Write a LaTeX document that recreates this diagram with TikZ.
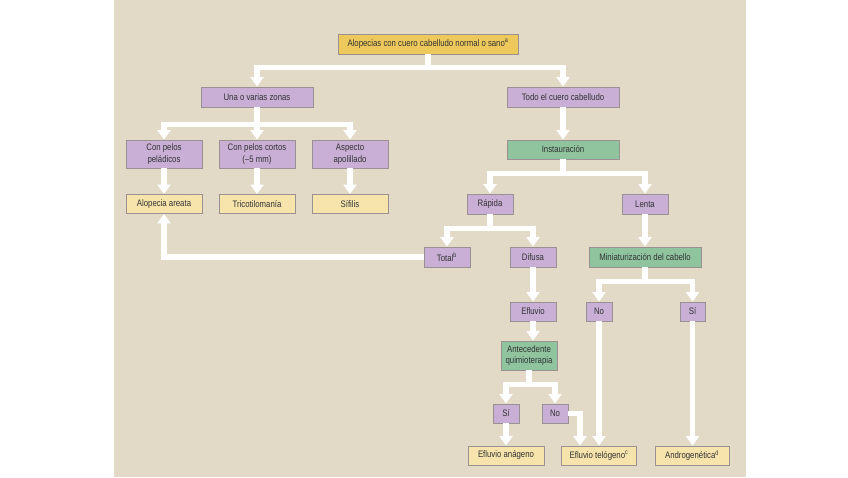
\documentclass[tikz,border=0pt]{standalone}
\usepackage{fontspec}
\setmainfont{Liberation Sans}[FakeStretch=0.83]
\usetikzlibrary{arrows.meta}
\definecolor{bgbeige}{HTML}{E2DAC7}
\definecolor{purp}{HTML}{C9AED6}
\definecolor{topyel}{HTML}{EDC95C}
\definecolor{lightyel}{HTML}{F6E4AC}
\definecolor{grn}{HTML}{8FC49F}
\definecolor{bordgrey}{HTML}{9A9290}
\definecolor{txt}{HTML}{333333}
\begin{document}
\begin{tikzpicture}[x=1pt,y=-1pt,
  box/.style={draw=bordgrey, line width=0.9pt, inner sep=0pt, align=center,
    text=txt, font=\fontsize{9.4}{11.5}\selectfont, minimum height=20pt},
  pbox/.style={box, fill=purp},
  ybox/.style={box, fill=lightyel, minimum width=76pt},
  gbox/.style={box, fill=grn},
  tbox/.style={box, fill=topyel},
  arr/.style={draw=white, line width=5.4pt, -{Triangle[width=13pt,length=9.5pt]}, line join=miter}
]
\useasboundingbox (0,0) rectangle (848,477);
\fill[white] (0,0) rectangle (848,477);
\fill[bgbeige] (114,0) rectangle (746,477);

% nodes
\node[tbox, minimum width=180pt] (top) at (428,44) {Alopecias con cuero cabelludo normal o sano\textsuperscript{a}};
\node[pbox, minimum width=112pt] (una) at (257,97) {Una o varias zonas};
\node[pbox, minimum width=112pt] (todo) at (563,97) {Todo el cuero cabelludo};
\node[gbox, minimum width=112pt, minimum height=19pt] (inst) at (563,149.5) {Instauración};

\node[pbox, minimum width=76pt, minimum height=28pt] (pel) at (164,154) {Con pelos\\peládicos};
\node[pbox, minimum width=76pt, minimum height=28pt] (cor) at (257,154) {Con pelos cortos\\(\char"2013 5 mm)};
\node[pbox, minimum width=76pt, minimum height=28pt] (asp) at (350,154) {Aspecto\\apolillado};

\node[ybox, minimum height=19pt] (are) at (164,204) {Alopecia areata};
\node[ybox, minimum height=19pt] (tri) at (257,204) {Tricotilomanía};
\node[ybox, minimum height=19pt] (sif) at (350,204) {Sífilis};

\node[pbox, minimum width=46pt] (rap) at (490,204) {Rápida};
\node[pbox, minimum width=46pt] (len) at (645,204) {Lenta};

\node[pbox, minimum width=46pt] (tot) at (447,257) {Total\textsuperscript{b}};
\node[pbox, minimum width=46pt] (dif) at (533,257) {Difusa};
\node[gbox, minimum width=112pt] (min) at (645,257) {Miniaturización del cabello};

\node[pbox, minimum width=46pt, minimum height=19pt] (efl) at (533,311.5) {Efluvio};
\node[pbox, minimum width=26pt, minimum height=19pt] (noa) at (599,311.5) {No};
\node[pbox, minimum width=25pt, minimum height=19pt] (sia) at (692.5,311.5) {Sí};

\node[gbox, minimum width=56pt, minimum height=29pt] (ant) at (529,355.5) {Antecedente\\quimioterapia};

\node[pbox, minimum width=26pt, minimum height=19pt] (sib) at (506,413.5) {Sí};
\node[pbox, minimum width=26pt, minimum height=19pt] (nob) at (555,413.5) {No};

\node[ybox, minimum height=19pt] (ana) at (506,455.5) {Efluvio anágeno};
\node[ybox, minimum height=19pt, minimum width=75pt] (tel) at (599,455.5) {Efluvio telógeno\textsuperscript{c}};
\node[ybox, minimum height=19pt, minimum width=74pt] (and) at (692,455.5) {Androgenética\textsuperscript{d}};

% connectors
\draw[arr] (top.south) -- ++(0,13) -| (una.north);
\draw[arr] (top.south) -- ++(0,13) -| (todo.north);

\draw[arr] (una.south) -- ++(0,17) -| (pel.north);
\draw[arr] (una.south) -- (cor.north);
\draw[arr] (una.south) -- ++(0,17) -| (asp.north);

\draw[arr] (pel.south) -- (are.north);
\draw[arr] (cor.south) -- (tri.north);
\draw[arr] (asp.south) -- (sif.north);

\draw[arr] (todo.south) -- (inst.north);
\draw[arr] (inst.south) -- ++(0,14) -| (rap.north);
\draw[arr] (inst.south) -- ++(0,14) -| (len.north);

\draw[arr] (rap.south) -- ++(0,14) -| (tot.north);
\draw[arr] (rap.south) -- ++(0,14) -| (dif.north);
\draw[arr] (tot.west) -| (are.south);

\draw[arr] (len.south) -- (min.north);
\draw[arr] (min.south) -- ++(0,14) -| (noa.north);
\draw[arr] (min.south) -- ++(0,14) -| (sia.north);

\draw[arr] (dif.south) -- (efl.north);
\draw[arr] (efl.south) -- (efl.south |- ant.north);

\draw[arr] (ant.south) -- ++(0,14) -| (sib.north);
\draw[arr] (ant.south) -- ++(0,14) -| (nob.north);

\draw[arr] (sib.south) -- (ana.north);
\draw[arr] (nob.east) -| ([xshift=-19pt]tel.north);
\draw[arr] (noa.south) -- (tel.north);
\draw[arr] (sia.south) -- (sia.south |- and.north);
\end{tikzpicture}
\end{document}
